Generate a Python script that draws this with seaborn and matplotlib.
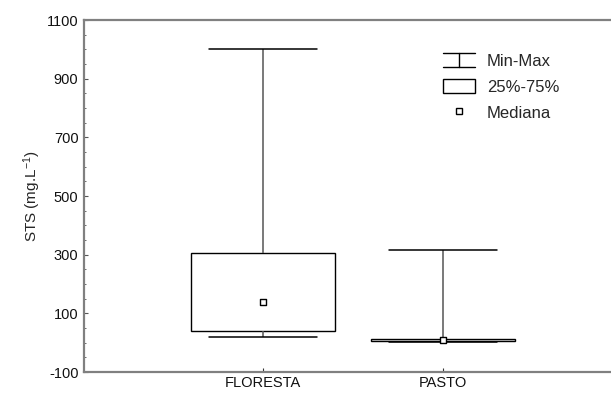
import numpy as np
import pandas as pd
import matplotlib
matplotlib.use("Agg")
import matplotlib.pyplot as plt
from matplotlib.lines import Line2D
from matplotlib.patches import Rectangle
from matplotlib.legend_handler import HandlerBase
from matplotlib.ticker import MultipleLocator
import seaborn as sns

# Five-number summary of suspended solids (STS, mg/L) per land use
locais = ["FLORESTA", "PASTO"]
minimo = [19, 1]
quartil_25 = [40, 7]
mediana = [140, 9]
quartil_75 = [307, 13]
maximo = [1000, 315]

yticks = [-100, 100, 300, 500, 700, 900, 1100]

sns.set_style("ticks")
plt.rcParams["font.family"] = ["Liberation Sans", "DejaVu Sans"]
plt.rcParams["mathtext.fontset"] = "custom"
plt.rcParams["mathtext.rm"] = "Liberation Sans"
plt.rcParams["mathtext.it"] = "Liberation Sans"
plt.rcParams["mathtext.default"] = "regular"
plt.rcParams["axes.unicode_minus"] = False

# Long table: the five summary values per group give exact quartiles
rows = []
for i, loc in enumerate(locais):
    for v in (minimo[i], quartil_25[i], mediana[i], quartil_75[i], maximo[i]):
        rows.append({"local": loc, "STS": v})
df = pd.DataFrame(rows)
df_med = pd.DataFrame({"local": locais, "STS": mediana})

W, H = 611, 393
fig = plt.figure(figsize=(W / 100, H / 100), dpi=100)
ax = fig.add_axes([84 / W, 1 - 372 / H, (W - 84) / W, (372 - 20) / H])

largura = 0.8
sns.boxplot(
    data=df, x="local", y="STS", order=locais,
    whis=(0, 100), width=largura, showfliers=False,
    color="white", linecolor="black", linewidth=1.0,
    boxprops={"edgecolor": "black", "linewidth": 1.0},
    medianprops={"visible": False},
    whiskerprops={"color": "#555555", "linewidth": 1.1},
    capprops={"color": "black", "linewidth": 1.1, "gid": "cap"},
    ax=ax,
)

# Whisker caps span three quarters of the box width
meia_cap = 0.75 * largura / 2
for ln in ax.lines:
    if ln.get_gid() == "cap":
        c = np.asarray(ln.get_xdata(), dtype=float).mean()
        ln.set_xdata([c - meia_cap, c + meia_cap])

sns.stripplot(
    data=df_med, x="local", y="STS", order=locais, jitter=False,
    marker="s", size=5, color="white", edgecolor="black", linewidth=1.0,
    ax=ax, zorder=5,
)

ax.set_xlim(-0.994, 1.933)
ax.set_ylim(-100, 1100)
ax.set_yticks(yticks)
ax.yaxis.set_minor_locator(MultipleLocator(50))
ax.set_xlabel("")
ax.set_ylabel("STS (mg.L$^{-1}$)", fontsize=11, labelpad=3)

for s in ("left", "top", "bottom"):
    ax.spines[s].set_visible(True)
    ax.spines[s].set_color("#808080")
    ax.spines[s].set_linewidth(1.6)
ax.spines["right"].set_visible(False)

ax.tick_params(axis="y", which="major", direction="in", length=3, width=0.8,
               color="#555555", labelsize=10.5, labelcolor="#111111", pad=4)
ax.tick_params(axis="y", which="minor", direction="in", length=1.5, width=0.6,
               color="#555555")
ax.tick_params(axis="x", which="major", direction="in", length=3, width=0.8,
               color="#333333", labelsize=10.5, labelcolor="#111111", pad=3)


class MinMaxHandler(HandlerBase):
    def create_artists(self, legend, orig_handle, xdescent, ydescent,
                       width, height, fontsize, trans):
        x0, x1 = -xdescent, -xdescent + width
        y0, y1 = -ydescent, -ydescent + height
        xm = (x0 + x1) / 2
        arts = [
            Line2D([x0, x1], [y1, y1], color="black", lw=1.0),
            Line2D([x0, x1], [y0, y0], color="black", lw=1.0),
            Line2D([xm, xm], [y0, y1], color="black", lw=1.0),
        ]
        for a in arts:
            a.set_transform(trans)
        return arts


class MinMaxKey:
    pass


h_minmax = MinMaxKey()
h_box = Rectangle((0, 0), 1, 1, facecolor="white", edgecolor="black", lw=1.0)
h_med = Line2D([], [], linestyle="none", marker="s", markersize=5,
               markerfacecolor="white", markeredgecolor="black", markeredgewidth=1.0)

leg = ax.legend(
    [h_minmax, h_box, h_med], ["Min-Max", "25%-75%", "Mediana"],
    handler_map={MinMaxKey: MinMaxHandler()},
    loc="upper left", bbox_to_anchor=(443 / W, 1 - 53 / H),
    bbox_transform=fig.transFigure, frameon=False, fontsize=12,
    borderpad=0, borderaxespad=0, handlelength=1.9, handleheight=0.9,
    handletextpad=0.72, labelspacing=0.62,
)

fig.savefig("out.png", dpi=100, facecolor="white")
